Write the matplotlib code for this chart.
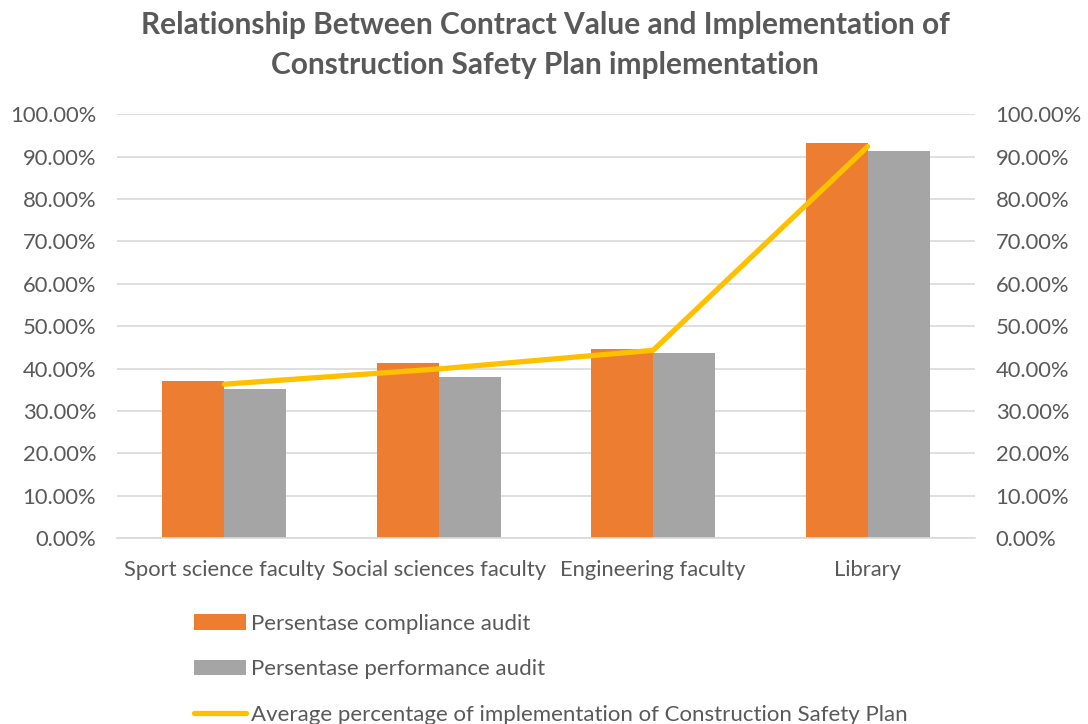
import numpy as np
import matplotlib.pyplot as plt
from matplotlib.ticker import PercentFormatter

# Data
categories = ['Sport science faculty', 'Social sciences faculty', 'Engineering faculty', 'Library']
compliance = [37.1, 41.3, 44.6, 93.3]
performance = [35.2, 37.9, 43.7, 91.3]
average_impl = [36.3, 39.9, 44.3, 92.4]
yticks = [0, 10, 20, 30, 40, 50, 60, 70, 80, 90, 100]

text_col = '#595959'
grid_col = '#D9D9D9'
plt.rcParams['font.family'] = ['Lato', 'DejaVu Sans']

fig = plt.figure(figsize=(10.88, 7.24), dpi=100)
ax = fig.add_axes([0.1075, 0.257, 0.7885, 0.585])
ax2 = ax.twinx()

x = np.arange(len(categories))
w = 0.289
b1 = ax.bar(x - w / 2, compliance, w, color='#ED7D31', label='Persentase compliance audit', zorder=2)
b2 = ax.bar(x + w / 2, performance, w, color='#A5A5A5', label='Persentase performance audit', zorder=2)
ln, = ax2.plot(x, average_impl, color='#FFC000', lw=3.8, solid_capstyle='round',
               label='Average percentage of implementation of Construction Safety Plan')

for a in (ax, ax2):
    a.set_ylim(0, 100)
    a.set_yticks(yticks)
    a.yaxis.set_major_formatter(PercentFormatter(decimals=2))
    a.tick_params(axis='y', length=0, labelsize=15.8, labelcolor=text_col, pad=15)
    for s in a.spines.values():
        s.set_visible(False)
ax.set_xlim(-0.5, 3.5)
ax.set_xticks(x)
ax.set_xticklabels(categories)
ax.tick_params(axis='x', length=0, labelsize=15.8, labelcolor=text_col, pad=16)
ax.yaxis.grid(True, color=grid_col, lw=1.2, zorder=0)
ax.set_axisbelow(True)
ax.spines['bottom'].set_visible(True)
ax.spines['bottom'].set_color(grid_col)
ax.spines['bottom'].set_linewidth(1.2)

fig.text(0.501, 0.985, 'Relationship Between Contract Value and Implementation of\nConstruction Safety Plan implementation',
         ha='center', va='top', fontsize=21.5, fontweight='bold', color=text_col, linespacing=1.52)

fig.legend(handles=[b1, b2, ln], loc='upper left', bbox_to_anchor=(0.178, 0.152),
           frameon=False, fontsize=16, labelcolor=text_col, handlelength=2.35,
           handletextpad=0.25, labelspacing=1.14, borderpad=0, borderaxespad=0)

fig.savefig('out.png', dpi=100)
